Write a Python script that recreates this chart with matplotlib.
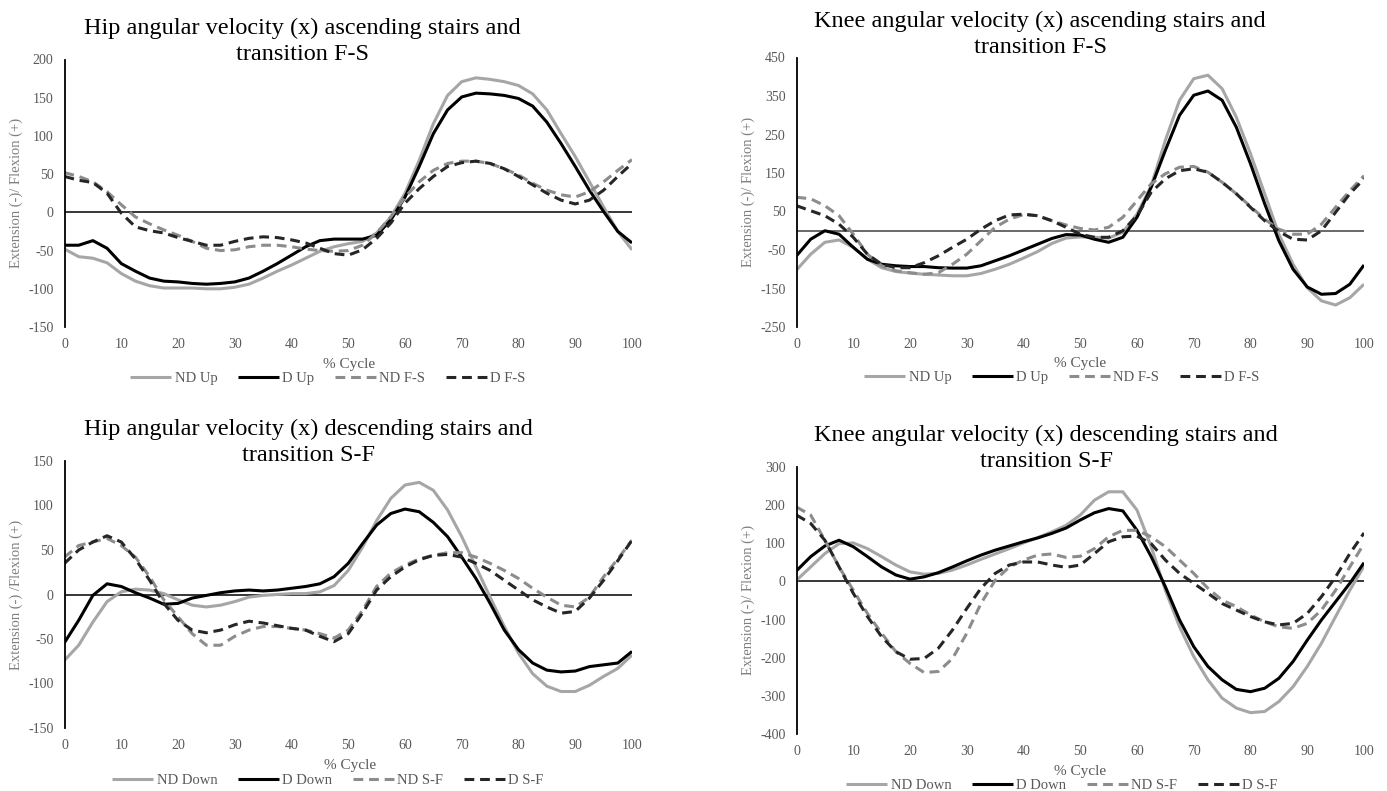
import numpy as np
import matplotlib.pyplot as plt

plt.rcParams["font.family"] = ["Liberation Serif", "DejaVu Serif"]
plt.rcParams["axes.unicode_minus"] = False

# % of cycle, one sample every 2.5 %
pct = np.linspace(0, 100, 41)

# ---- hip, ascending stairs / transition F-S
hip_nd_up = [-48, -58, -60, -66, -80, -90, -96, -99, -99, -99, -100, -100, -98, -94, -86, -77, -69,
             -60, -51, -45, -41, -38, -27, -6, 25, 68, 116, 153, 171, 176, 174, 171, 166, 155, 134,
             103, 73, 40, 7, -25, -49]
hip_d_up = [-43, -43, -37, -47, -67, -77, -86, -90, -91, -93, -94, -93, -91, -86, -77, -67, -56,
            -45, -37, -35, -35, -35, -30, -10, 20, 60, 103, 134, 151, 156, 155, 153, 149, 139, 118,
            90, 60, 29, 1, -25, -40]
hip_nd_fs = [52, 47, 40, 27, 10, -6, -15, -23, -30, -38, -47, -50, -49, -45, -43, -43, -45, -48,
             -50, -51, -50, -43, -27, -6, 20, 40, 55, 64, 67, 67, 64, 57, 49, 38, 29, 23, 20, 27,
             40, 55, 69]
hip_d_fs = [47, 42, 39, 25, -1, -19, -24, -27, -33, -38, -43, -43, -38, -34, -32, -33, -36, -40,
            -47, -54, -56, -49, -34, -14, 12, 31, 47, 60, 65, 67, 64, 57, 47, 36, 25, 16, 11, 16,
            29, 47, 64]

# ---- knee, ascending stairs / transition F-S
knee_nd_up = [-102, -61, -30, -24, -43, -74, -96, -106, -110, -113, -115, -117, -117, -111, -100,
              -87, -71, -54, -33, -19, -16, -17, -19, -4, 43, 117, 235, 339, 395, 404, 369, 295,
              200, 96, -9, -87, -148, -182, -193, -174, -139]
knee_d_up = [-65, -22, 0, -9, -43, -74, -87, -91, -93, -93, -96, -97, -97, -91, -78, -65, -50, -35,
             -20, -10, -11, -22, -30, -17, 35, 113, 209, 300, 352, 363, 339, 269, 174, 70, -26,
             -100, -146, -165, -163, -139, -89]
knee_nd_fs = [87, 83, 65, 39, -9, -61, -91, -104, -109, -113, -109, -87, -61, -26, 9, 30, 42, 39,
              26, 15, 6, 2, 9, 35, 78, 122, 148, 165, 167, 152, 126, 96, 63, 30, 4, -9, -9, 17,
              61, 104, 143]
knee_d_fs = [65, 52, 39, 17, -17, -61, -87, -96, -96, -83, -65, -43, -22, 4, 26, 41, 43, 39, 26,
             9, -9, -17, -17, 0, 39, 100, 135, 156, 161, 152, 126, 96, 61, 26, -2, -22, -24, 0, 48,
             96, 135]

# ---- hip, descending stairs / transition S-F
hip_nd_down = [-74, -57, -31, -8, 3, 6, 5, 1, -6, -12, -14, -12, -8, -3, -1, 0, 1, 1, 3, 10, 27,
               53, 83, 108, 123, 126, 117, 95, 65, 31, -3, -36, -66, -89, -103, -109, -109, -102,
               -92, -83, -68]
hip_d_down = [-54, -29, -1, 12, 9, 2, -4, -11, -10, -4, -1, 2, 4, 5, 4, 5, 7, 9, 12, 20, 35, 57,
              78, 91, 96, 93, 81, 65, 42, 18, -10, -40, -62, -77, -85, -87, -86, -81, -79, -77, -64]
hip_nd_sf = [42, 55, 59, 63, 55, 42, 20, -6, -25, -44, -57, -57, -47, -40, -36, -36, -38, -40,
             -44, -49, -40, -18, 9, 24, 33, 40, 44, 47, 47, 42, 35, 27, 18, 7, -3, -12, -14, -3,
             20, 40, 61]
hip_d_sf = [35, 50, 59, 66, 59, 40, 16, -10, -29, -40, -43, -40, -34, -30, -32, -35, -38, -40,
            -47, -53, -44, -21, 5, 20, 31, 39, 44, 45, 42, 35, 27, 16, 5, -6, -14, -21, -19, -4,
            16, 38, 61]

# ---- knee, descending stairs / transition S-F
knee_nd_down = [3, 38, 73, 99, 101, 86, 65, 43, 25, 19, 21, 30, 43, 58, 72, 86, 101, 115, 130,
                147, 174, 213, 235, 235, 187, 91, -23, -119, -197, -258, -306, -332, -344, -341,
                -315, -276, -223, -162, -92, -23, 40]
knee_d_down = [28, 65, 93, 108, 91, 65, 38, 17, 6, 12, 23, 38, 54, 69, 82, 93, 104, 114, 126, 140,
               161, 180, 191, 185, 134, 65, -14, -101, -171, -223, -258, -283, -289, -280, -254,
               -210, -154, -101, -53, -5, 49]
knee_nd_sf = [195, 174, 108, 38, -23, -84, -136, -184, -215, -239, -236, -202, -136, -58, 3, 38,
              56, 69, 72, 63, 66, 86, 117, 134, 134, 117, 91, 56, 21, -18, -49, -66, -88, -106,
              -119, -123, -110, -75, -23, 38, 99]
knee_d_sf = [174, 152, 108, 38, -31, -92, -145, -184, -204, -202, -175, -127, -71, -18, 21, 43,
             51, 51, 43, 37, 43, 73, 104, 117, 119, 99, 56, 21, -5, -31, -58, -75, -92, -106, -114,
             -110, -84, -40, 12, 73, 127]

W, H = 1387, 791
fig = plt.figure(figsize=(W / 100, H / 100), dpi=100)


def fx(x):
    return x / W


def fy(y):
    return 1 - y / H


def box(l, r, t, b):
    return [fx(l), fy(b), (r - l) / W, (b - t) / H]


styles = [
    dict(color="#a6a6a6", lw=2.2, ls="-"),
    dict(color="black", lw=2.2, ls="-"),
    dict(color="#8c8c8c", lw=2.2, ls=(0, (3.2, 1.9))),
    dict(color="#262626", lw=2.2, ls=(0, (3.2, 1.9))),
]

panels = [
    dict(pos=(64.5, 632, 59.5, 327), ylim=(-150, 200), step=50,
         series=[hip_nd_up, hip_d_up, hip_nd_fs, hip_d_fs],
         labels=["ND Up", "D Up", "ND F-S", "D F-S"],
         title="Hip angular velocity (x) ascending stairs and\ntransition F-S",
         ylabel="Extension (-)/ Flexion (+)",
         title_xy=(302, 41.5), ylab_xy=(16, 193), xlab_xy=(349, 364), leg_xy=(328, 378),
         zero="black"),
    dict(pos=(796.5, 1364, 57.5, 327), ylim=(-250, 450), step=100,
         series=[knee_nd_up, knee_d_up, knee_nd_fs, knee_d_fs],
         labels=["ND Up", "D Up", "ND F-S", "D F-S"],
         title="Knee angular velocity (x) ascending stairs and\ntransition F-S",
         ylabel="Extension (-)/ Flexion (+)",
         title_xy=(1040, 34.5), ylab_xy=(748, 192), xlab_xy=(1080, 363), leg_xy=(1062, 377),
         zero="#404040"),
    dict(pos=(64.5, 632, 461, 728), ylim=(-150, 150), step=50,
         series=[hip_nd_down, hip_d_down, hip_nd_sf, hip_d_sf],
         labels=["ND Down", "D Down", "ND S-F", "D S-F"],
         title="Hip angular velocity (x) descending stairs and\ntransition S-F",
         ylabel="Extension (-) /Flexion (+)",
         title_xy=(308, 442.5), ylab_xy=(16, 595), xlab_xy=(350, 766), leg_xy=(328, 780),
         zero="black"),
    dict(pos=(796.5, 1364, 467, 734), ylim=(-400, 300), step=100,
         series=[knee_nd_down, knee_d_down, knee_nd_sf, knee_d_sf],
         labels=["ND Down", "D Down", "ND S-F", "D S-F"],
         title="Knee angular velocity (x) descending stairs and\ntransition S-F",
         ylabel="Extension (-)/ Flexion (+)",
         title_xy=(1046, 448.5), ylab_xy=(748, 600), xlab_xy=(1080, 771), leg_xy=(1062, 785),
         zero="black"),
]

for p in panels:
    ax = fig.add_axes(box(*p["pos"]))
    ax.axhline(0, color=p["zero"], lw=1.1, zorder=1)
    handles = []
    for vals, st in zip(p["series"], styles):
        (ln,) = ax.plot(pct, vals, color=st["color"], lw=st["lw"], ls=st["ls"],
                        solid_capstyle="butt", dash_capstyle="butt",
                        solid_joinstyle="round", zorder=2)
        handles.append(ln)

    lo, hi = p["ylim"]
    ax.set_xlim(0, 100)
    ax.set_ylim(lo, hi)
    ax.set_yticks(np.arange(lo, hi + 1, p["step"]))
    ax.set_xticks(np.arange(0, 101, 10))
    for s in ["top", "right", "bottom"]:
        ax.spines[s].set_visible(False)
    ax.spines["left"].set_color("black")
    ax.spines["left"].set_linewidth(1.3)
    ax.tick_params(length=0, labelsize=10, labelcolor="#595959")
    ax.tick_params(axis="y", pad=8)
    ax.tick_params(axis="x", pad=8)

    tx, ty = p["title_xy"]
    fig.text(fx(tx), fy(ty), p["title"], ha="center", va="center", fontsize=17.5,
             linespacing=1.35, color="black")
    lx, ly = p["ylab_xy"]
    fig.text(fx(lx), fy(ly), p["ylabel"], rotation=90, ha="center", va="center",
             fontsize=10.5, color="#7f7f7f")
    cx, cy = p["xlab_xy"]
    fig.text(fx(cx), fy(cy), "% Cycle", ha="center", va="center", fontsize=11, color="#595959")
    gx, gy = p["leg_xy"]
    leg = fig.legend(handles, p["labels"], loc="center", bbox_to_anchor=(fx(gx), fy(gy)),
                     ncol=4, frameon=False, fontsize=10.5, handlelength=2.8,
                     handletextpad=0.25, columnspacing=1.4, borderpad=0, borderaxespad=0)
    for t in leg.get_texts():
        t.set_color("#595959")

fig.savefig("out.png", dpi=100)
